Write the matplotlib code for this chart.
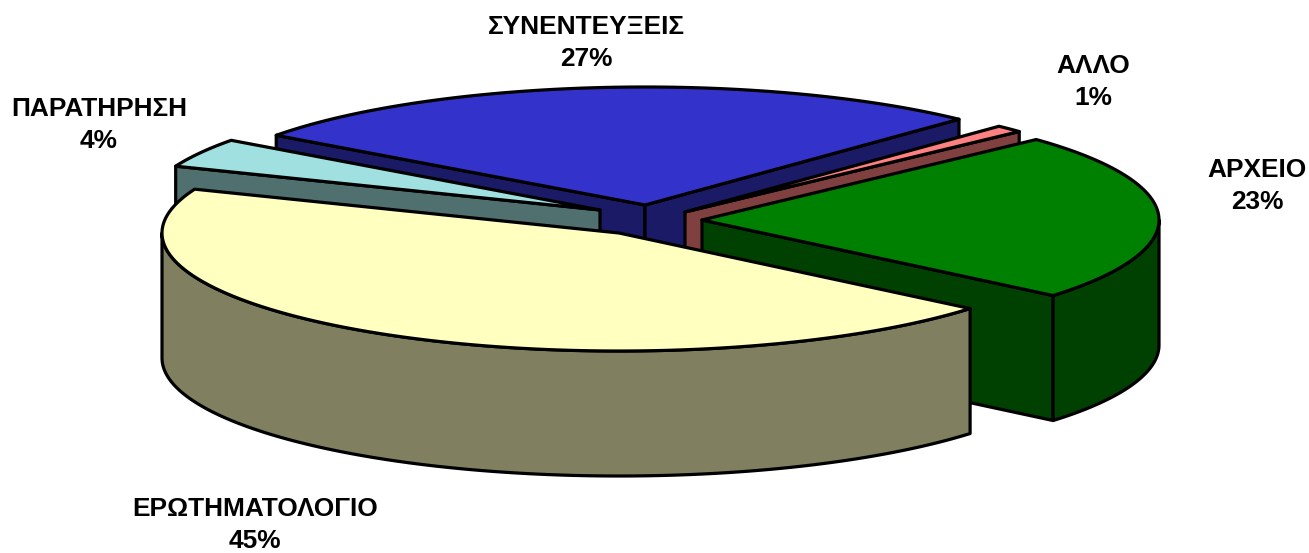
import numpy as np
import matplotlib
matplotlib.use("Agg")
import matplotlib.pyplot as plt
from matplotlib.patches import Polygon

plt.rcParams['font.family'] = ['Liberation Sans', 'DejaVu Sans']

# clockwise order, starting from the first slice
labels = ["ΑΡΧΕΙΟ", "ΕΡΩΤΗΜΑΤΟΛΟΓΙΟ", "ΠΑΡΑΤΗΡΗΣΗ", "ΣΥΝΕΝΤΕΥΞΕΙΣ", "ΑΛΛΟ"]
values = [23, 45, 4, 27, 1]
top_colors = ["#008000", "#FFFFC0", "#A0E0E0", "#3333CC", "#FF8080"]
side_colors = ["#004000", "#808060", "#507070", "#1A1A66", "#804040"]

# exploded slice apex, in pixels
apex_x = [702, 619, 600, 645, 685]
apex_y = [220, 233, 210, 205, 212]
label_x = [1257, 255, 99, 586, 1093]
label_y = [186, 525, 125, 43, 82]
draw_order = [3, 2, 4, 0, 1]

start_angle = 43
radius_x = 457
radius_y = 118
depth = 125
line = dict(edgecolor="black", linewidth=2.3, joinstyle="round")


def rim(cx, cy, a1, a2):
    t = np.radians(np.linspace(a1, a2, 160))
    return cx + radius_x * np.cos(t), cy - radius_y * np.sin(t)


fig = plt.figure(figsize=(13.09, 5.53), dpi=100)
ax = fig.add_axes([0, 0, 1, 1])
ax.set_xlim(0, 1309)
ax.set_ylim(553, 0)
ax.axis("off")

# slices go clockwise, so each one runs from a1 down to a2
ends = start_angle - np.cumsum(values) * 3.6
starts = np.concatenate([[start_angle], ends[:-1]])

for i in draw_order:
    a1, a2 = starts[i], ends[i]
    cx, cy = apex_x[i], apex_y[i]
    side = dict(facecolor=side_colors[i], **line)

    # cut faces, only the ones turned to the viewer
    for a, visible in ((a1, np.cos(np.radians(a1)) < 0), (a2, np.cos(np.radians(a2)) > 0)):
        if visible:
            ex, ey = rim(cx, cy, a, a)
            ex, ey = ex[0], ey[0]
            ax.add_patch(Polygon([(cx, cy), (ex, ey), (ex, ey + depth), (cx, cy + depth)], **side))

    # outer wall, lower half of the ellipse only
    turn = np.floor((a1 + 180) / 360) * 360
    w1, w2 = min(a1, turn), max(a2, turn - 180)
    if w1 > w2:
        x, y = rim(cx, cy, w1, w2)
        wall = np.column_stack([np.r_[x, x[::-1]], np.r_[y, y[::-1] + depth]])
        ax.add_patch(Polygon(wall, facecolor=side_colors[i], **line))

    x, y = rim(cx, cy, a1, a2)
    top = np.column_stack([np.r_[cx, x], np.r_[cy, y]])
    ax.add_patch(Polygon(top, facecolor=top_colors[i], **line))

for i in range(len(values)):
    ax.text(label_x[i], label_y[i], f"{labels[i]}\n{values[i]}%", ha="center", va="center",
            fontsize=18.9, fontweight="bold", linespacing=1.45, color="black")

fig.savefig("out.png", dpi=100)
